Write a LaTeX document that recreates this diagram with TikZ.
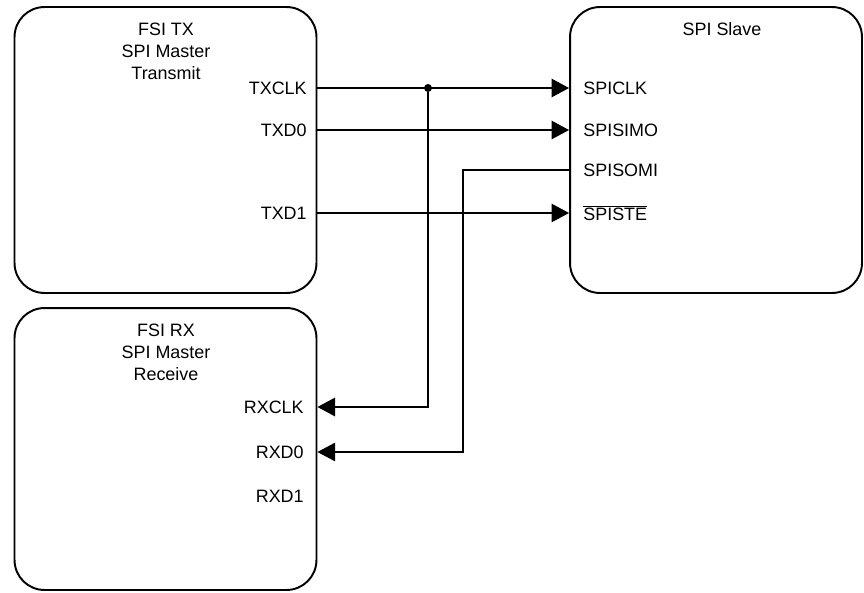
\documentclass[tikz,border=0pt]{standalone}
\usepackage{fontspec}
\setmainfont{Liberation Sans}
\usetikzlibrary{arrows.meta,calc,positioning}
\tikzset{
  unit/.style={draw,rounded corners=0.6cm,line width=1.1pt,inner sep=0pt},
  title/.style={align=center,inner sep=0pt},
  pinr/.style={anchor=east,inner sep=0pt},
  pinl/.style={anchor=west,inner sep=0pt},
  wire/.style={line width=0.9pt},
  thinwire/.style={line width=0.6pt},
  junction/.style={circle,fill,inner sep=1.6pt}
}

\begin{document}
\begin{tikzpicture}[x=0.02cm,y=-0.02cm,>={Triangle[length=10pt,width=10.5pt]},
    font=\fontsize{10.2}{12.5}\selectfont]
  \useasboundingbox (0,0) rectangle (864,592);

  \node[unit,minimum width=6.04cm,minimum height=5.72cm] (tx) at (165.5,150) {};
  \node[unit,minimum width=5.84cm,minimum height=5.72cm] (slave) at (716,150) {};
  \node[unit,minimum width=6.04cm,minimum height=5.64cm] (rx) at (165.5,449) {};

  \node[title] (txtitle) at (166,51) {FSI TX\\SPI Master\\Transmit};
  \node[title] (slavetitle) at (722,29) {SPI Slave};
  \node[title] (rxtitle) at (166,352) {FSI RX\\SPI Master\\Receive};

  \node[pinr] (txclk) at (307,88) {TXCLK};
  \node[pinr] (txd0) at (307,130) {TXD0};
  \node[pinr] (txd1) at (307,213) {TXD1};

  \node[pinl] (spiclk) at (583,88) {SPICLK};
  \node[pinl] (spisimo) at (583,130) {SPISIMO};
  \node[pinl] (spisomi) at (583,170) {SPISOMI};
  \node[pinl] (spiste) at (583,213) {$\overline{\mbox{SPISTE}}$};

  \node[pinr] (rxclk) at (304,407) {RXCLK};
  \node[pinr] (rxd0) at (304,452) {RXD0};
  \node[pinr] (rxd1) at (304,496) {RXD1};

  \node[junction] (j) at (428,88) {};
  \coordinate (bend) at (463,170);

  \draw[wire,->] (txclk -| tx.east) -- (spiclk -| slave.west);
  \draw[wire,->] (txd0 -| tx.east) -- (spisimo -| slave.west);
  \draw[wire,->] (txd1 -| tx.east) -- (spiste -| slave.west);
  \draw[wire,->] (j) |- (rxclk -| rx.east);
  \draw[thinwire,->] (spisomi -| slave.west) -- (bend) |- (rxd0 -| rx.east);
\end{tikzpicture}
\end{document}
